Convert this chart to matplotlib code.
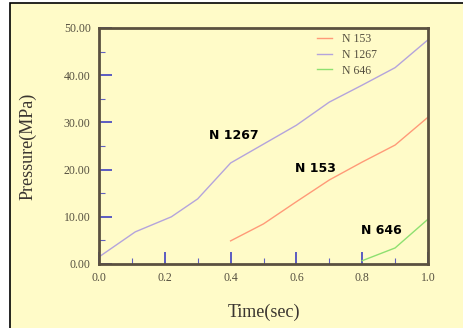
import matplotlib.pyplot as plt
from matplotlib.patches import Rectangle
from matplotlib.ticker import MultipleLocator, FormatStrFormatter

# series data
t_1267 = [0.0, 0.11, 0.22, 0.3, 0.4, 0.5, 0.6, 0.7, 0.8, 0.9, 1.0]
p_1267 = [1.5, 6.8, 10.0, 13.8, 21.4, 25.4, 29.4, 34.3, 37.9, 41.6, 47.5]
t_153 = [0.4, 0.5, 0.6, 0.7, 0.8, 0.9, 1.0]
p_153 = [4.9, 8.5, 13.2, 17.8, 21.6, 25.2, 31.1]
t_646 = [0.8, 0.9, 1.0]
p_646 = [0.7, 3.4, 9.5]

labels = ['N 153', 'N 1267', 'N 646']
notes = ['N 1267', 'N 153', 'N 646']
note_pos = [(0.335, 27.3), (0.595, 20.3), (0.797, 7.2)]

BG = '#fffbc8'
SPINE = '#5a5040'
TXT = '#555040'

fig = plt.figure(figsize=(4.63, 3.28), dpi=100)
fig.patch.set_facecolor('white')
# cropped frame: black border on left/top only
fig.patches.append(Rectangle((10 / 463, -0.1), 1.2, 1 - 3 / 328 + 0.1,
                             transform=fig.transFigure, facecolor=BG,
                             edgecolor='black', linewidth=1.2, zorder=-10))

ax = fig.add_axes([99 / 463, 1 - 264 / 328, 329 / 463, 236 / 328])
ax.set_facecolor(BG)

ax.plot(t_153, p_153, color='#ff9a78', lw=1.0, label=labels[0])
ax.plot(t_1267, p_1267, color='#b4a4dc', lw=1.0, label=labels[1])
ax.plot(t_646, p_646, color='#8ee070', lw=1.0, label=labels[2])

for txt, (x, y) in zip(notes, note_pos):
    ax.text(x, y, txt, fontsize=9, fontweight='bold', color='black',
            va='center', ha='left', family='DejaVu Sans')

ax.xaxis.set_major_locator(MultipleLocator(0.2))
ax.xaxis.set_minor_locator(MultipleLocator(0.1))
ax.yaxis.set_major_locator(MultipleLocator(10))
ax.yaxis.set_minor_locator(MultipleLocator(5))
ax.xaxis.set_major_formatter(FormatStrFormatter('%.1f'))
ax.yaxis.set_major_formatter(FormatStrFormatter('%.2f'))
ax.set_xlim(0, 1.0)
ax.set_ylim(0, 50)

ax.tick_params(which='major', direction='in', length=9, width=1.2,
               color='#4040c0', labelsize=8.5, labelcolor=TXT,
               labelfontfamily='Liberation Serif', pad=6)
ax.tick_params(which='minor', direction='in', length=4, width=0.8,
               color='#6060c0')

for s in ax.spines.values():
    s.set_color(SPINE)
    s.set_linewidth(2)

ax.set_xlabel('Time(sec)', family='Liberation Serif', fontsize=13,
              color='#3a3530')
ax.set_ylabel('Pressure(MPa)', family='Liberation Serif', fontsize=13,
              color='#3a3530')
ax.xaxis.set_label_coords(0.5, -0.17)
ax.yaxis.set_label_coords(-0.19, 0.5)

leg = ax.legend(loc='upper left', bbox_to_anchor=(0.63, 1.022), frameon=False,
                prop={'family': 'Liberation Serif', 'size': 8.5},
                handlelength=1.3, labelspacing=0.3, handletextpad=0.8)
for t in leg.get_texts():
    t.set_color(TXT)

plt.savefig('out.png', dpi=100, facecolor=fig.get_facecolor())
